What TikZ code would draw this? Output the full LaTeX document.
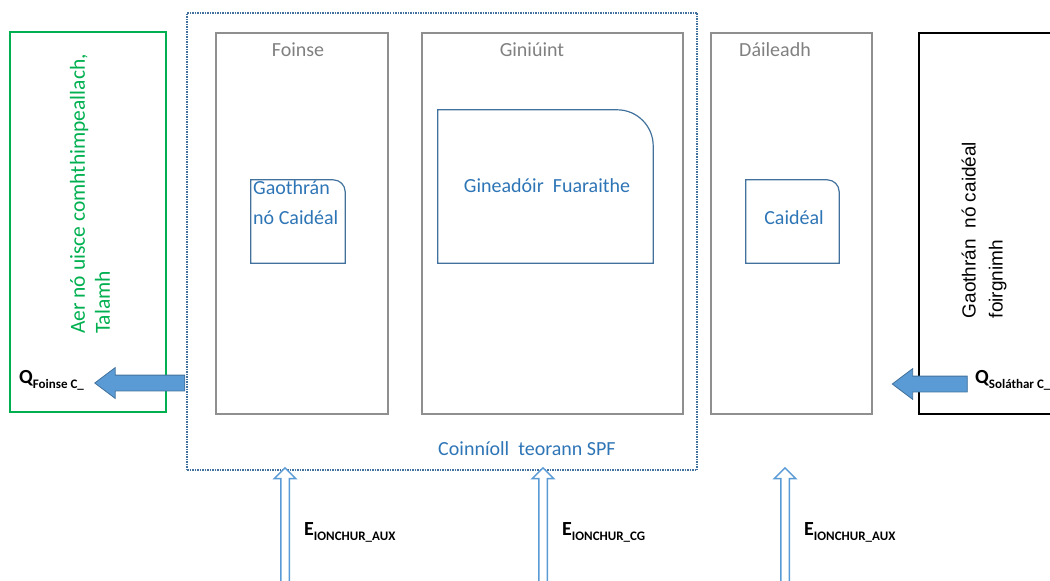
\documentclass[tikz,border=0pt]{standalone}
\usepackage{fontspec}
\setmainfont{Carlito}
\newfontfamily\arialfont{Liberation Sans}
\usetikzlibrary{shapes.arrows,calc}

\definecolor{boxgray}{HTML}{8F8F8F}
\definecolor{labelgray}{HTML}{808080}
\definecolor{lineblue}{HTML}{41719C}
\definecolor{textblue}{HTML}{2E75B6}
\definecolor{fillblue}{HTML}{5B9BD5}
\definecolor{envgreen}{HTML}{00B050}

\newcommand\subfont{\fontsize{13}{13}\selectfont}

\tikzset{
  envbox/.style={draw=envgreen, line width=1.3pt, minimum width=156, minimum height=380, inner sep=0pt},
  spfbox/.style={draw=lineblue, line width=1.5pt, dash pattern=on 1.5pt off 1pt, minimum width=510, minimum height=457, inner sep=0pt},
  stage/.style={draw=boxgray, line width=1.1pt, minimum width=#1, minimum height=381, inner sep=0pt},
  bldbox/.style={draw=black, line width=1.3pt, minimum width=200, minimum height=381, inner sep=0pt},
  blankbox/.style={inner sep=0pt, minimum width=#1},
  innerline/.style={draw=lineblue, line width=1.2pt},
  graytext/.style={text=labelgray, font=\fontsize{20}{24}\selectfont, inner sep=0pt},
  bluetext/.style={text=textblue, font=\fontsize{20}{30}\selectfont, inner sep=0pt},
  envtext/.style={text=envgreen, font=\fontsize{21.5}{25}\selectfont, align=left, inner sep=0pt},
  bldtext/.style={text=black, font=\arialfont\fontsize{19}{27}\selectfont, align=left, inner sep=0pt},
  flowlabel/.style={text=black, font=\bfseries\fontsize{20}{24}\selectfont, inner sep=0pt, anchor=west},
  fatarrow/.style={single arrow, draw=lineblue, fill=fillblue, line width=0.8pt, inner xsep=0pt, inner ysep=7.5pt,
    single arrow head extend=7.5, single arrow tip angle=74},
  inarrow/.style={single arrow, draw=fillblue, fill=white, line width=1.5pt, inner xsep=0pt, inner ysep=3.5pt,
    single arrow head extend=6.5, single arrow tip angle=90, minimum height=118}
}

% one rounded corner (top right) round a named node
\newcommand\cornerbox[2]{%
  \draw[innerline] (#1.south west) -- (#1.north west) -- ($(#1.north east)+(-#2,0)$)
    .. controls ($(#1.north east)+(-0.45*#2,0)$) and ($(#1.north east)+(0,0.45*#2)$) .. ($(#1.north east)+(0,#2)$)
    -- (#1.south east) -- cycle;}

\begin{document}
\begin{tikzpicture}[x=1pt,y=-1pt]

    \useasboundingbox (0,0) rectangle (1050,581);
    \clip (0,0) rectangle (1050,581);

    % Surroundings
    \node[envbox] (amb) at (88,222) {};
    \node[envtext, rotate=90] (ambtext) at (90,194) {Aer nó uisce comhthimpeallach,\\Talamh};

    % Boundary of the system
    \node[spfbox] (spf) at (442,241.5) {};
    \node[bluetext] (spflabel) at (527,449) {Coinníoll\ \ teorann SPF};

    % Stages
    \node[stage=172] (foinse) at (302,223.5) {};
    \node[stage=261] (giniuint) at (552.5,223.5) {};
    \node[stage=161] (daileadh) at (791.5,223.5) {};
    \node[graytext] (foinsetitle) at (298,50) {Foinse};
    \node[graytext] (giniuinttitle) at (532,50) {Giniúint};
    \node[graytext] (daileadhtitle) at (775,50) {Dáileadh};

    % Building side
    \node[bldbox] (bld) at (1019,223.5) {};
    \node[bldtext, rotate=90] (bldtext) at (984,230) {Gaothrán\ \ nó caidéal\\foirgnimh};

    % Components
    \node[blankbox=94, minimum height=83] (gao) at (298,221.5) {};
    \cornerbox{gao}{12}
    \node[bluetext, anchor=north west, align=left] (gaotext) at (253,180) {Gaothrán\\nó Caidéal};

    \node[blankbox=215, minimum height=153] (gin) at (545.5,186.5) {};
    \cornerbox{gin}{36}
    \node[bluetext] (gintext) at (547,186) {Gineadóir\ \ Fuaraithe};

    \node[blankbox=93, minimum height=83] (cai) at (792.5,221.5) {};
    \cornerbox{cai}{12}
    \node[bluetext] (caitext) at (794,218) {Caidéal};

    % Heat flows
    \node[fatarrow, shape border rotate=180, minimum height=90] (qfoinse) at (145,383) {};
    \node[flowlabel] (qfoinselabel) at (19,380) {Q\raisebox{-5pt}{\subfont Foinse C\_}};
    \node[fatarrow, shape border rotate=180, minimum height=75] (qsol) at (935,384) {};
    \node[flowlabel] (qsollabel) at (975,380) {Q\raisebox{-5pt}{\subfont Soláthar C\_}};

    % Energy inputs
    \foreach \ex/\nm/\sub in {285/auxa/AUX, 543/cg/CG, 785/auxb/AUX} {
        \node[inarrow, rotate=90] (in\nm) at (\ex,529) {};
        \node[flowlabel] (lab\nm) at (\ex+19,532) {E\raisebox{-5pt}{\subfont IONCHUR\_\sub}};
    }

\end{tikzpicture}
\end{document}
